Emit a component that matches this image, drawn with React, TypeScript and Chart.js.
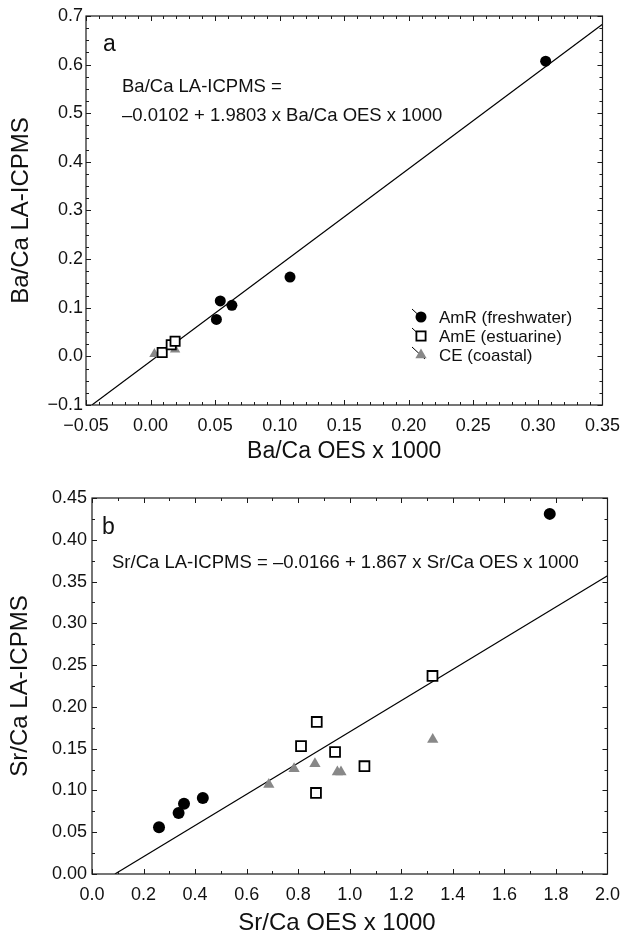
import React, { useEffect, useRef } from 'react';
import { Chart, registerables } from 'chart.js';

Chart.register(...registerables);

const FONT = '"Liberation Sans", Arial, Helvetica, sans-serif';

// ---------- Panel a: Ba/Ca ----------
const aAmRX = [0.051, 0.054, 0.063, 0.108, 0.306];
const aAmRY = [0.076, 0.114, 0.105, 0.163, 0.607];
const aAmEX = [0.009, 0.016, 0.019];
const aAmEY = [0.008, 0.024, 0.031];
const aCEX = [0.003, 0.008, 0.019];
const aCEY = [0.005, 0.007, 0.014];
const aFitX = [-0.0454, 0.35];
const aFitY = [-0.1, 0.683];

// ---------- Panel b: Sr/Ca ----------
const bAmRX = [0.26, 0.336, 0.357, 0.43, 1.776];
const bAmRY = [0.056, 0.073, 0.084, 0.091, 0.431];
const bAmEX = [0.811, 0.872, 0.869, 0.943, 1.057, 1.321];
const bAmEY = [0.153, 0.182, 0.097, 0.146, 0.129, 0.237];
const bCEX = [0.686, 0.784, 0.865, 0.952, 0.966, 1.322];
const bCEY = [0.107, 0.126, 0.132, 0.122, 0.122, 0.161];
const bFitX = [0.0889, 2.0];
const bFitY = [0.0, 0.357];

const legendLabels = ['AmR (freshwater)', 'AmE (estuarine)', 'CE (coastal)'];
const aEquation = ['Ba/Ca LA-ICPMS =', '\u20130.0102 + 1.9803 x Ba/Ca OES x 1000'];
const bEquation = 'Sr/Ca LA-ICPMS = \u20130.0166 + 1.867 x Sr/Ca OES x 1000';

const GRAY = '#888888';

const pts = (xs: number[], ys: number[]) => xs.map((x, i) => ({ x, y: ys[i] }));

const fmt = (d: number) => (v: any) => {
  const n = Number(v);
  const s = Math.abs(n).toFixed(d);
  return n < -1e-9 ? '\u2212' + s : s;
};

type Panel = {
  id: string;
  width: number;
  height: number;
  yWidth: number;
  xHeight: number;
  padding: { top: number; right: number; left: number; bottom: number };
  xMin: number; xMax: number; xStep: number; xMinor: number; xDec: number;
  yMin: number; yMax: number; yStep: number; yMinor: number; yDec: number;
  yPad: number;
  radius: number;
  data: { amr: any[]; ame: any[]; ce: any[]; fit: any[] };
  draw: (ctx: CanvasRenderingContext2D, a: any) => void;
};

function drawMarker(ctx: CanvasRenderingContext2D, kind: string, x: number, y: number, r: number) {
  ctx.save();
  if (kind === 'circle') {
    ctx.fillStyle = '#000';
    ctx.beginPath();
    ctx.arc(x, y, r, 0, Math.PI * 2);
    ctx.fill();
  } else if (kind === 'rect') {
    const s = r * Math.SQRT1_2;
    ctx.fillStyle = '#fff';
    ctx.strokeStyle = '#000';
    ctx.lineWidth = 1.8;
    ctx.fillRect(x - s, y - s, 2 * s, 2 * s);
    ctx.strokeRect(x - s, y - s, 2 * s, 2 * s);
  } else {
    ctx.fillStyle = GRAY;
    ctx.beginPath();
    for (let k = 0; k < 3; k++) {
      const ang = -Math.PI / 2 + (k * 2 * Math.PI) / 3;
      const px = x + Math.cos(ang) * r;
      const py = y + Math.sin(ang) * r;
      if (k === 0) ctx.moveTo(px, py);
      else ctx.lineTo(px, py);
    }
    ctx.closePath();
    ctx.fill();
  }
  ctx.restore();
}

function framePlugin(p: Panel) {
  return {
    id: 'frame_' + p.id,
    afterDatasetsDraw(chart: any) {
      const { ctx, chartArea: a, scales } = chart;
      const xs = scales.x;
      const ys = scales.y;
      ctx.save();
      ctx.strokeStyle = '#1a1a1a';
      ctx.lineWidth = 1.2;
      ctx.strokeRect(a.left, a.top, a.right - a.left, a.bottom - a.top);
      ctx.lineWidth = 1;
      const nx = Math.round((p.xMax - p.xMin) / p.xMinor);
      for (let i = 0; i <= nx; i++) {
        const v = p.xMin + i * p.xMinor;
        const q = (v - p.xMin) / p.xStep;
        const major = Math.abs(q - Math.round(q)) < 1e-6;
        const len = major ? 5 : 3;
        const px = Math.round(xs.getPixelForValue(v)) + 0.5;
        ctx.beginPath();
        ctx.moveTo(px, a.bottom);
        ctx.lineTo(px, a.bottom - len);
        ctx.moveTo(px, a.top);
        ctx.lineTo(px, a.top + len);
        ctx.stroke();
      }
      const ny = Math.round((p.yMax - p.yMin) / p.yMinor);
      for (let i = 0; i <= ny; i++) {
        const v = p.yMin + i * p.yMinor;
        const q = (v - p.yMin) / p.yStep;
        const major = Math.abs(q - Math.round(q)) < 1e-6;
        const len = major ? 5 : 3;
        const py = Math.round(ys.getPixelForValue(v)) + 0.5;
        ctx.beginPath();
        ctx.moveTo(a.left, py);
        ctx.lineTo(a.left + len, py);
        ctx.moveTo(a.right, py);
        ctx.lineTo(a.right - len, py);
        ctx.stroke();
      }
      p.draw(ctx, a);
      ctx.restore();
    },
  };
}

function makeConfig(p: Panel): any {
  return {
    type: 'scatter',
    data: {
      datasets: [
        {
          label: 'AmR',
          data: p.data.amr,
          pointStyle: 'circle',
          pointRadius: p.radius,
          backgroundColor: '#000',
          borderColor: '#000',
          borderWidth: 0,
        },
        {
          label: 'AmE',
          data: p.data.ame,
          pointStyle: 'rect',
          pointRadius: p.radius + 1,
          backgroundColor: '#fff',
          borderColor: '#000',
          borderWidth: 1.8,
        },
        {
          label: 'CE',
          data: p.data.ce,
          pointStyle: 'triangle',
          pointRadius: p.radius + 0.5,
          backgroundColor: GRAY,
          borderColor: GRAY,
          borderWidth: 0,
        },
        {
          label: 'fit',
          data: p.data.fit,
          showLine: true,
          pointRadius: 0,
          borderColor: '#000',
          borderWidth: 1.2,
          fill: false,
        },
      ],
    },
    options: {
      responsive: false,
      animation: false,
      events: [],
      devicePixelRatio: 1,
      layout: { padding: p.padding },
      plugins: { legend: { display: false }, tooltip: { enabled: false }, title: { display: false } },
      scales: {
        x: {
          type: 'linear',
          min: p.xMin,
          max: p.xMax,
          afterFit: (s: any) => {
            s.height = p.xHeight;
          },
          grid: { display: false, drawTicks: false },
          border: { display: false },
          ticks: {
            stepSize: p.xStep,
            autoSkip: false,
            maxRotation: 0,
            padding: 10,
            color: '#111',
            font: { family: FONT, size: 18 },
            callback: fmt(p.xDec),
          },
        },
        y: {
          type: 'linear',
          min: p.yMin,
          max: p.yMax,
          afterFit: (s: any) => {
            s.width = p.yWidth;
          },
          grid: { display: false, drawTicks: false },
          border: { display: false },
          ticks: {
            stepSize: p.yStep,
            autoSkip: false,
            padding: p.yPad,
            color: '#111',
            font: { family: FONT, size: 18 },
            callback: fmt(p.yDec),
          },
        },
      },
    },
    plugins: [framePlugin(p)],
  };
}

function text(ctx: CanvasRenderingContext2D, s: string, x: number, y: number, size: number, align: CanvasTextAlign = 'left', base: CanvasTextBaseline = 'alphabetic') {
  ctx.fillStyle = '#111';
  ctx.font = `${size}px ${FONT}`;
  ctx.textAlign = align;
  ctx.textBaseline = base;
  ctx.fillText(s, x, y);
}

function vtext(ctx: CanvasRenderingContext2D, s: string, x: number, y: number, size: number) {
  ctx.save();
  ctx.translate(x, y);
  ctx.rotate(-Math.PI / 2);
  text(ctx, s, 0, 0, size, 'center', 'middle');
  ctx.restore();
}

const panelA: Panel = {
  id: 'a',
  width: 630,
  height: 471,
  yWidth: 86,
  xHeight: 66,
  padding: { top: 16, right: 23, left: 0, bottom: 0 },
  xMin: -0.05, xMax: 0.35, xStep: 0.05, xMinor: 0.01, xDec: 2,
  yMin: -0.1, yMax: 0.7, yStep: 0.1, yMinor: 0.025, yDec: 1,
  yPad: 3,
  radius: 5.5,
  data: {
    amr: pts(aAmRX, aAmRY),
    ame: pts(aAmEX, aAmEY),
    ce: pts(aCEX, aCEY),
    fit: pts(aFitX, aFitY),
  },
  draw: (ctx, a) => {
    text(ctx, 'a', 103, 51, 23);
    text(ctx, aEquation[0], 122, 92, 18.5);
    text(ctx, aEquation[1], 122, 121, 18.5);
    text(ctx, 'Ba/Ca OES x 1000', (a.left + a.right) / 2, 452, 23, 'center', 'middle');
    vtext(ctx, 'Ba/Ca LA-ICPMS', 21, (a.top + a.bottom) / 2, 24);
    const kinds = ['circle', 'rect', 'triangle'];
    const ly = [317, 336, 355];
    kinds.forEach((k, i) => {
      const sx = 421;
      const sy = ly[i];
      ctx.save();
      ctx.strokeStyle = '#000';
      ctx.lineWidth = 1;
      ctx.beginPath();
      ctx.moveTo(sx - 9, sy - 8);
      ctx.lineTo(sx + 4, sy + 4);
      ctx.stroke();
      ctx.restore();
      drawMarker(ctx, k, sx, sy, k === 'circle' ? 5.5 : 6.5);
      text(ctx, legendLabels[i], 439, sy + 1, 17, 'left', 'middle');
    });
  },
};

const panelB: Panel = {
  id: 'b',
  width: 630,
  height: 472,
  yWidth: 92,
  xHeight: 69,
  padding: { top: 27, right: 15, left: 0, bottom: 0 },
  xMin: 0, xMax: 2.0, xStep: 0.2, xMinor: 0.1, xDec: 1,
  yMin: 0, yMax: 0.45, yStep: 0.05, yMinor: 0.025, yDec: 2,
  yPad: 5,
  radius: 6,
  data: {
    amr: pts(bAmRX, bAmRY),
    ame: pts(bAmEX, bAmEY),
    ce: pts(bCEX, bCEY),
    fit: pts(bFitX, bFitY),
  },
  draw: (ctx, a) => {
    text(ctx, 'b', 102, 534 - 471, 23);
    text(ctx, bEquation, 112, 568 - 471, 18.5);
    text(ctx, 'Sr/Ca OES x 1000', 337, 923 - 471, 24, 'center', 'middle');
    vtext(ctx, 'Sr/Ca LA-ICPMS', 20, (a.top + a.bottom) / 2, 24);
  },
};

function ChartPanel({ p, top }: { p: Panel; top: number }) {
  const ref = useRef<HTMLCanvasElement>(null);
  useEffect(() => {
    if (!ref.current) return;
    const chart = new Chart(ref.current, makeConfig(p));
    return () => chart.destroy();
  }, [p]);
  return (
    <canvas
      ref={ref}
      width={p.width}
      height={p.height}
      style={{ position: 'absolute', left: 0, top, width: p.width, height: p.height, display: 'block' }}
    />
  );
}

export default function App() {
  return (
    <div style={{ position: 'absolute', left: 0, top: 0, width: 630, height: 943, background: '#fff' }}>
      <ChartPanel p={panelA} top={0} />
      <ChartPanel p={panelB} top={471} />
    </div>
  );
}
